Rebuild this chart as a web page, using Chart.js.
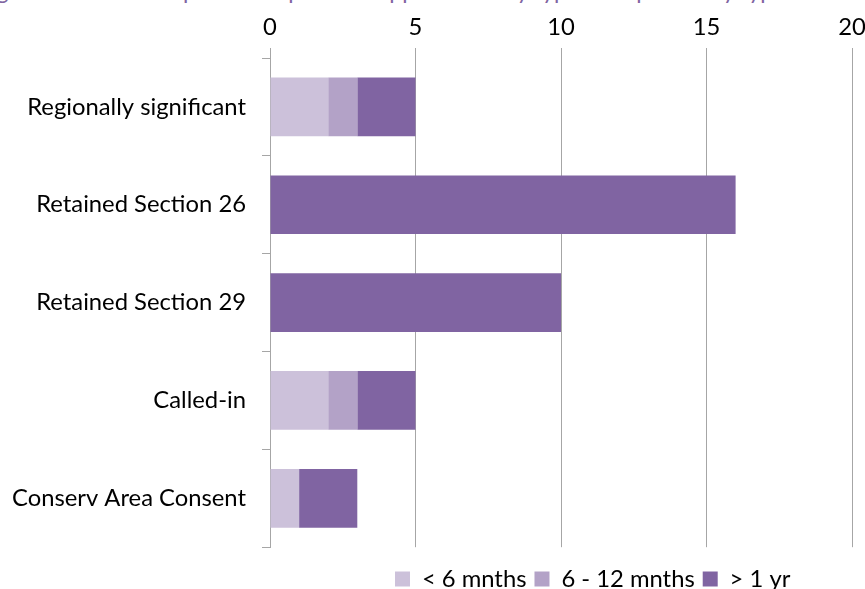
<!DOCTYPE html>
<html>
<head>
<meta charset="utf-8">
<script src="https://cdn.jsdelivr.net/npm/chart.js@4.4.0/dist/chart.umd.min.js"></script>
<style>
  html, body { margin: 0; padding: 0; background: #ffffff; overflow: hidden; }
  #wrap { position: relative; width: 865px; height: 589px; overflow: hidden; }
  #title { position: absolute; left: -22px; top: -22px; white-space: nowrap;
           font-family: Lato, "Open Sans", sans-serif; font-size: 23px; line-height: 24px; color: #8064a2; }
  canvas { position: absolute; left: 0; top: 0; }
</style>
</head>
<body>
<div id="wrap">
  <div id="title">Figure 4: Time to dispose of dependent applications by type of dependency type</div>
  <canvas id="c" width="865" height="589"></canvas>
</div>
<script>
const categories = ["Regionally significant", "Retained Section 26", "Retained Section 29", "Called-in", "Conserv Area Consent"];
const seriesNames = ["< 6 mnths", "6 - 12 mnths", "> 1 yr"];
const underSixMonths = [2, 0, 0, 2, 1];
const sixToTwelveMonths = [1, 0, 0, 1, 0];
const overOneYear = [2, 16, 10, 2, 2];
const xTicks = [0, 5, 10, 15, 20];

const colors = ["#ccc1da", "#b3a2c7", "#8064a2"];
const FAMILY = "Lato, 'Open Sans', sans-serif";

// fit font size so long category label has the reference width
const mctx = document.createElement('canvas').getContext('2d');
mctx.font = "100px " + FAMILY;
const refW = mctx.measureText("Conserv Area Consent").width;
const FS = Math.round(234 / refW * 100 * 10) / 10;
const LEG_PAD = 8;

const legendShift = {
  id: 'legendShift',
  afterLayout(chart) {
    const l = chart.legend;
    if (!l) return;
    const dx = (395 - LEG_PAD) - l.left;
    l.left += dx; l.right += dx;
    const targetTop = 579 - LEG_PAD - Math.max(FS, 15) / 2;
    const dy = targetTop - l.top;
    l.top += dy; l.bottom += dy;
  }
};

new Chart(document.getElementById('c'), {
  type: 'bar',
  data: {
    labels: categories,
    datasets: [
      { label: seriesNames[0], data: underSixMonths, backgroundColor: colors[0] },
      { label: seriesNames[1], data: sixToTwelveMonths, backgroundColor: colors[1] },
      { label: seriesNames[2], data: overOneYear, backgroundColor: colors[2] }
    ]
  },
  options: {
    indexAxis: 'y',
    responsive: false,
    animation: false,
    devicePixelRatio: 1,
    layout: { padding: { left: 0, right: 13, top: 0, bottom: 0 } },
    datasets: { bar: { barPercentage: 0.6, categoryPercentage: 1.0, borderWidth: 0 } },
    scales: {
      x: {
        position: 'top',
        stacked: true,
        min: 0, max: 20,
        afterBuildTicks(scale) { scale.ticks = xTicks.map(v => ({ value: v })); },
        afterFit(scale) { scale.height = 58; scale.paddingRight = 0; scale.paddingLeft = 0; },
        ticks: { color: '#000000', font: { family: FAMILY, size: FS }, padding: 6, maxRotation: 0 },
        grid: { color: '#a6a6a6', lineWidth: 1, tickLength: 10, drawTicks: true },
        border: { display: false }
      },
      y: {
        stacked: true,
        afterFit(scale) { scale.width = 270; },
        ticks: { color: '#000000', font: { family: FAMILY, size: FS }, padding: 16 },
        grid: { offset: true, drawOnChartArea: false, tickLength: 8, color: '#a6a6a6' },
        border: { display: true, color: '#a6a6a6', width: 1 }
      }
    },
    plugins: {
      legend: {
        position: 'bottom',
        align: 'start',
        onClick: null,
        labels: {
          color: '#000000',
          font: { family: FAMILY, size: FS },
          boxWidth: 15, boxHeight: 15,
          padding: LEG_PAD
        }
      },
      title: { display: false },
      tooltip: { enabled: false }
    }
  },
  plugins: [legendShift]
});
</script>
</body>
</html>
